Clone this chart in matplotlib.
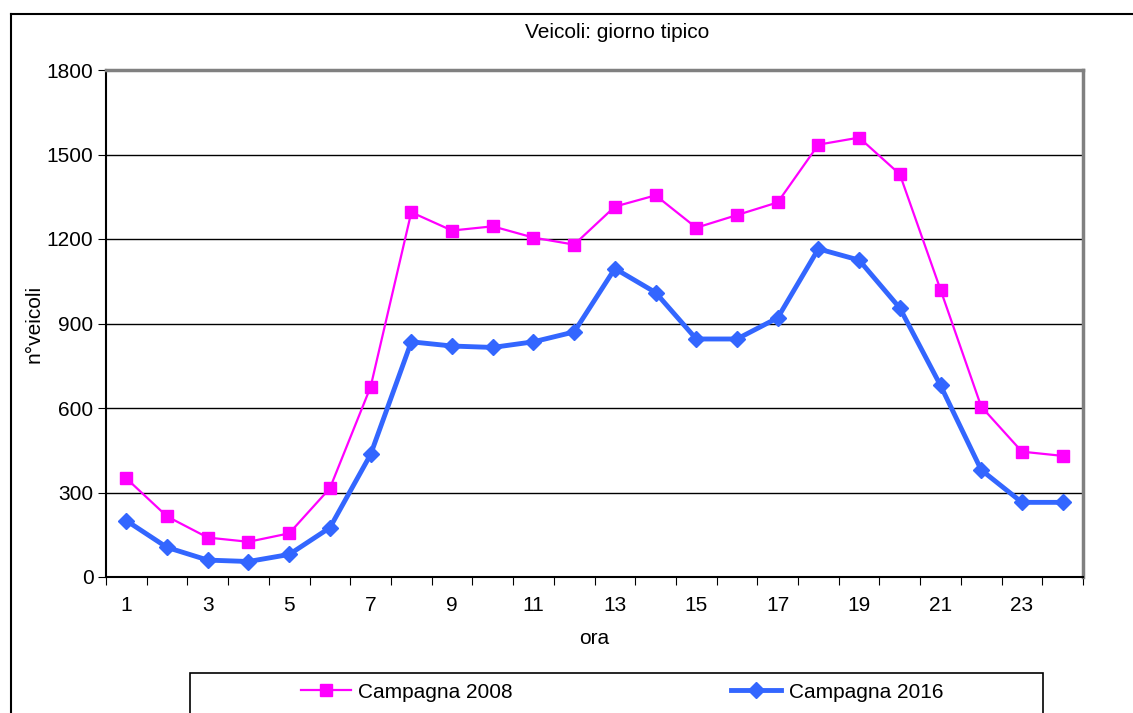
import numpy as np
import matplotlib
matplotlib.use("Agg")
import matplotlib.pyplot as plt
from matplotlib.lines import Line2D
from matplotlib.patches import Rectangle

plt.rcParams['font.family'] = ['Liberation Sans', 'DejaVu Sans']

# dati: veicoli per ora
ore = list(range(1, 25))
campagna_2008 = [350, 215, 140, 125, 155, 315, 675, 1295, 1230, 1245, 1205, 1180,
                 1315, 1355, 1240, 1285, 1330, 1535, 1560, 1430, 1020, 605, 445, 430]
campagna_2016 = [200, 105, 60, 55, 80, 175, 435, 835, 820, 815, 835, 870,
                 1095, 1010, 845, 845, 920, 1165, 1125, 955, 680, 380, 265, 265]
etichette_x = [str(h) for h in ore[::2]]
tick_y = [0, 300, 600, 900, 1200, 1500, 1800]

W, H = 1133, 713
fig = plt.figure(figsize=(W / 100, H / 100), dpi=100)
ax = fig.add_axes([106 / W, 1 - 577 / H, (1083 - 106) / W, (577 - 70) / H])

ax.plot(ore, campagna_2008, color='#FF00FF', lw=1.6, marker='s', ms=9,
        label='Campagna 2008', zorder=3)
ax.plot(ore, campagna_2016, color='#3366FF', lw=3.5, marker='D', ms=8,
        label='Campagna 2016', zorder=4)

ax.set_xlim(0.5, 24.5)
ax.set_ylim(0, 1800)
ax.set_yticks(tick_y)
ax.set_yticklabels([str(v) for v in tick_y], fontsize=15)
ax.grid(axis='y', color='black', lw=1)
ax.set_axisbelow(True)

# tick tra le categorie, etichette al centro (stile Excel)
ax.set_xticks(np.arange(0.5, 25, 1))
ax.set_xticklabels([])
ax.set_xticks(ore[::2], minor=True)
ax.set_xticklabels(etichette_x, minor=True, fontsize=15)
ax.tick_params(axis='x', which='major', direction='out', length=6, color='black')
ax.tick_params(axis='x', which='minor', length=0, pad=14)
ax.tick_params(axis='y', direction='out', length=6, pad=3)

for s in ['left', 'bottom']:
    ax.spines[s].set_color('black')
    ax.spines[s].set_linewidth(1.5)
for s in ['top', 'right']:
    ax.spines[s].set_color('#808080')
    ax.spines[s].set_linewidth(2.5)

ax.set_xlabel('ora', fontsize=15, labelpad=10)
ax.set_ylabel('n°veicoli', fontsize=15, labelpad=2)
fig.text(617 / W, 1 - 33 / H, 'Veicoli: giorno tipico', fontsize=15,
         ha='center', va='center')

# cornice esterna
fig.add_artist(Line2D([11 / W, 11 / W], [0, 1 - 14 / H], color='black', lw=1.5))
fig.add_artist(Line2D([11 / W, 1], [1 - 14 / H, 1 - 14 / H], color='black', lw=1.5))

# riquadro legenda
fig.add_artist(Rectangle((190 / W, -0.05), (1043 - 190) / W, 0.05 + (713 - 673) / H,
                         transform=fig.transFigure, fill=False, ec='black', lw=1.2))
fig.legend(loc='center', bbox_to_anchor=(622 / W, 1 - 692 / H), ncol=2,
           frameon=False, fontsize=15, handlelength=2.4, columnspacing=10.5,
           handletextpad=0.35)

fig.savefig('out.png', dpi=100)
